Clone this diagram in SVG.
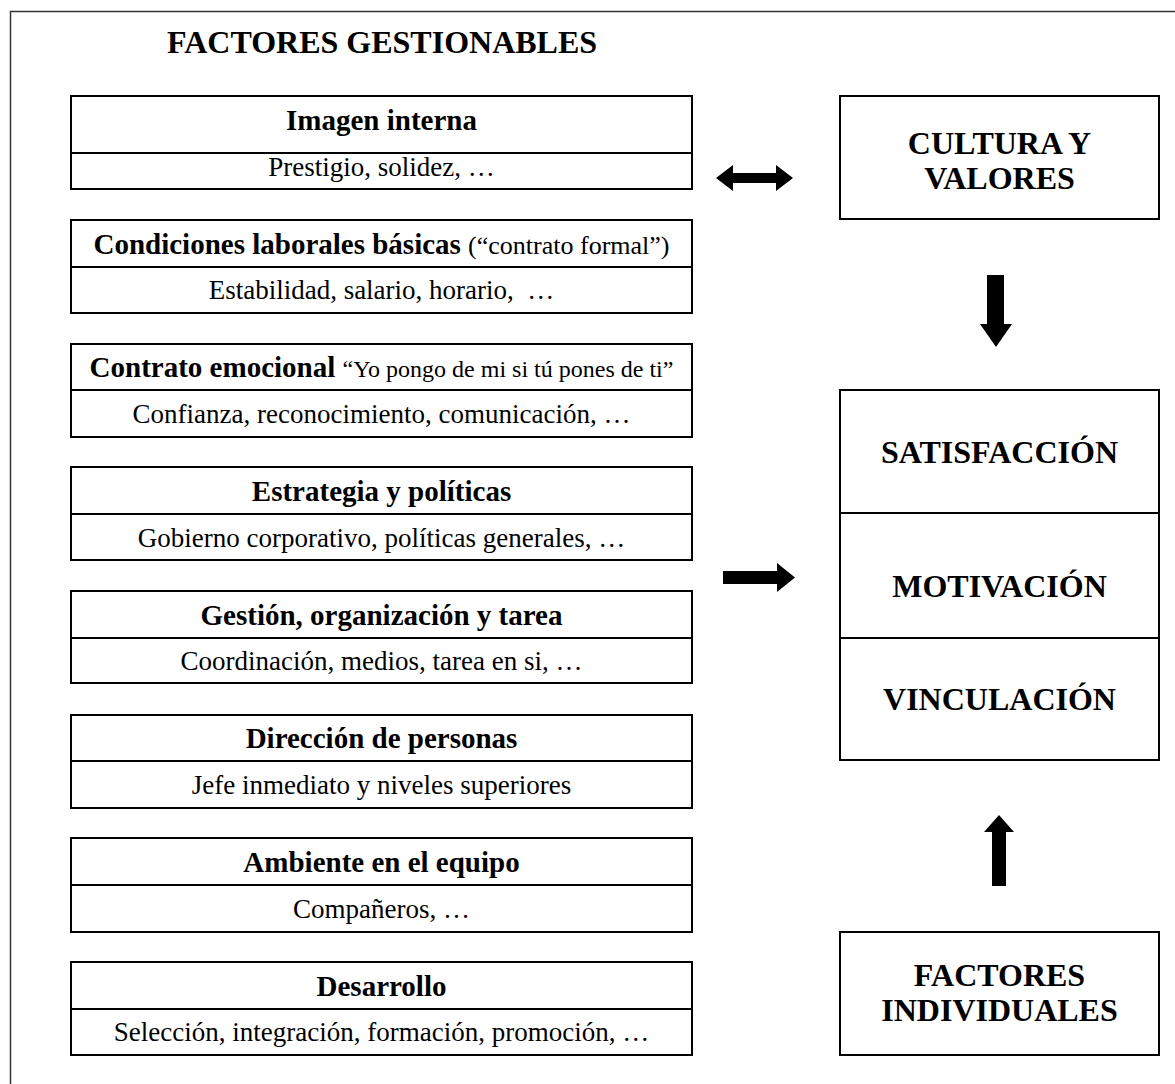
<svg xmlns="http://www.w3.org/2000/svg" width="1175" height="1084" viewBox="0 0 1175 1084">
<style>
.box{fill:#fff;stroke:#000;stroke-width:2}
.div{stroke:#000;stroke-width:2}
.t{font-family:"Liberation Serif","Times New Roman",serif;fill:#000;text-anchor:middle}
.h{font-weight:bold;font-size:29px}
.s{font-size:27px}
.q{font-weight:normal;font-size:24px}
.p{font-weight:normal;font-size:26px}
.r{font-weight:bold;font-size:32px}
.arr{fill:#000}
</style>
<rect x="10.5" y="11.5" width="1200" height="1100" fill="#fff" stroke="#333" stroke-width="1.5"/>
<text class="t" x="167" y="53" font-size="32" font-weight="bold" style="text-anchor:start">FACTORES GESTIONABLES</text>

<g id="n1">
<rect class="box" x="71" y="96" width="621" height="93"/>
<line class="div" x1="71" y1="153" x2="692" y2="153"/>
<text class="t h" x="381.5" y="130">Imagen interna</text>
<text class="t s" x="381.5" y="176">Prestigio, solidez, …</text>
</g>
<g id="n2">
<rect class="box" x="71" y="220" width="621" height="93"/>
<line class="div" x1="71" y1="267" x2="692" y2="267"/>
<text class="t h" x="381.5" y="254">Condiciones laborales básicas <tspan class="p">(“contrato formal”)</tspan></text>
<text class="t s" x="381.5" y="299">Estabilidad, salario, horario, &#160;…</text>
</g>
<g id="n3">
<rect class="box" x="71" y="344" width="621" height="93"/>
<line class="div" x1="71" y1="390" x2="692" y2="390"/>
<text class="t h" x="381.5" y="377">Contrato emocional <tspan class="q">“Yo pongo de mi si tú pones de ti”</tspan></text>
<text class="t s" x="381.5" y="423">Confianza, reconocimiento, comunicación, …</text>
</g>
<g id="n4">
<rect class="box" x="71" y="467" width="621" height="93"/>
<line class="div" x1="71" y1="514" x2="692" y2="514"/>
<text class="t h" x="381.5" y="501">Estrategia y políticas</text>
<text class="t s" x="381.5" y="547">Gobierno corporativo, políticas generales, …</text>
</g>
<g id="n5">
<rect class="box" x="71" y="591" width="621" height="92"/>
<line class="div" x1="71" y1="638" x2="692" y2="638"/>
<text class="t h" x="381.5" y="625">Gestión, organización y tarea</text>
<text class="t s" x="381.5" y="670">Coordinación, medios, tarea en si, …</text>
</g>
<g id="n6">
<rect class="box" x="71" y="715" width="621" height="93"/>
<line class="div" x1="71" y1="761" x2="692" y2="761"/>
<text class="t h" x="381.5" y="748">Dirección de personas</text>
<text class="t s" x="381.5" y="794">Jefe inmediato y niveles superiores</text>
</g>
<g id="n7">
<rect class="box" x="71" y="838" width="621" height="94"/>
<line class="div" x1="71" y1="885" x2="692" y2="885"/>
<text class="t h" x="381.5" y="872">Ambiente en el equipo</text>
<text class="t s" x="381.5" y="918">Compañeros, …</text>
</g>
<g id="n8">
<rect class="box" x="71" y="962" width="621" height="93"/>
<line class="div" x1="71" y1="1009" x2="692" y2="1009"/>
<text class="t h" x="381.5" y="996">Desarrollo</text>
<text class="t s" x="381.5" y="1041">Selección, integración, formación, promoción, …</text>
</g>

<g id="cultura">
<rect class="box" x="840" y="96" width="319" height="123"/>
<text class="t r" x="999.5" y="154">CULTURA Y</text>
<text class="t r" x="999.5" y="189">VALORES</text>
</g>
<g id="resultado">
<rect class="box" x="840" y="390" width="319" height="370"/>
<line class="div" x1="840" y1="513" x2="1159" y2="513"/>
<line class="div" x1="840" y1="638" x2="1159" y2="638"/>
<text class="t r" x="999.5" y="463">SATISFACCIÓN</text>
<text class="t r" x="999.5" y="597">MOTIVACIÓN</text>
<text class="t r" x="999.5" y="710">VINCULACIÓN</text>
</g>
<g id="individuales">
<rect class="box" x="840" y="932" width="319" height="123"/>
<text class="t r" x="999.5" y="986">FACTORES</text>
<text class="t r" x="999.5" y="1021">INDIVIDUALES</text>
</g>

<g id="connectors">
<polygon class="arr" points="716,178 733,165 733,173 776,173 776,165 793,178 776,191 776,183 733,183 733,191"/>
<polygon class="arr" points="723,571 777,571 777,563 795,577.5 777,592 777,584 723,584"/>
<polygon class="arr" points="987,275 1004,275 1004,324 1012,324 996,347 980,324 987,324"/>
<polygon class="arr" points="999,815 1014,832 1006,832 1006,886 992,886 992,832 984,832"/>
</g>
</svg>
